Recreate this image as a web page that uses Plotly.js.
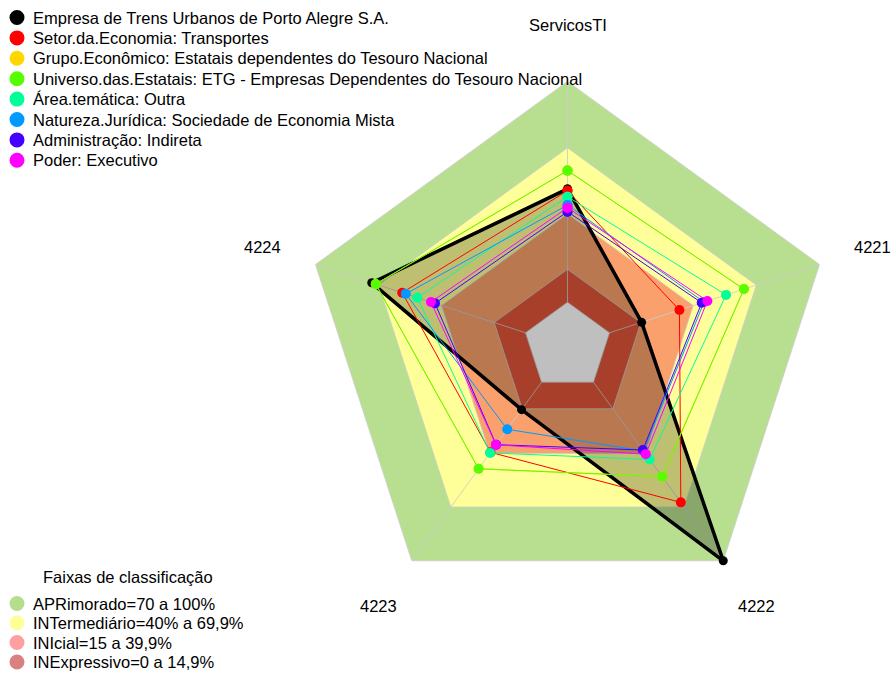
<!DOCTYPE html>
<html>
<head>
<meta charset="utf-8">
<script src="https://cdn.plot.ly/plotly-3.0.1.min.js"></script>
<style>html,body{margin:0;padding:0;background:#fff}#chart{width:893px;height:673px}</style>
</head>
<body>
<div id="chart"></div>
<script>
// ---- data ----
const categories = ["ServicosTI", "4221", "4222", "4223", "4224"];
const seriesNames = [
  "Empresa de Trens Urbanos de Porto Alegre S.A.",
  "Setor.da.Economia: Transportes",
  "Grupo.Econômico: Estatais dependentes do Tesouro Nacional",
  "Universo.das.Estatais: ETG - Empresas Dependentes do Tesouro Nacional",
  "Área.temática: Outra",
  "Natureza.Jurídica: Sociedade de Economia Mista",
  "Administração: Indireta",
  "Poder: Executivo"
];
const empresa  = [51.3, 15.3, 100.0, 15.4, 73.2];
const setor    = [50.5, 33.3, 67.3, 39.3, 58.7];
const grupo    = [59.6, 64.0, 52.9, 48.5, 71.3];
const universo = [59.6, 64.0, 52.9, 48.5, 71.3];
const area     = [47.8, 55.5, 43.3, 39.6, 51.5];
const natureza = [44.0, 45.0, 38.5, 26.4, 57.0];
const admin    = [41.0, 43.9, 38.0, 35.0, 43.1];
const poder    = [42.8, 46.6, 40.3, 35.1, 45.0];
const seriesValues = [empresa, setor, grupo, universo, area, natureza, admin, poder];
const seriesColors = ["#000000", "#ff0000", "#ffd700", "#55ff00", "#00ff99", "#0099ff", "#4400ff", "#ff00ff"];

const bandNames = ["APRimorado=70 a 100%", "INTermediário=40% a 69,9%", "INIcial=15 a 39,9%", "INExpressivo=0 a 14,9%"];
const bandTops = [100, 69.9, 39.9, 14.9];
const bandFill = ["#b8df8f", "#ffff99", "#f9a06c", "#df5538"];
const bandLegendColors = ["#b5de8c", "#ffff99", "#ff9f9f", "#db8080"];
const bandsTitle = "Faixas de classificação";

// ---- geometry ----
const W = 893, H = 673;
const cx = 567.5, cy = 346.4, R = 265;
const FONT = {size: 16.5, color: "#000", family: "Liberation Sans, Arial, sans-serif"};
const closeT = categories.concat([categories[0]]);
const closeR = a => a.concat([a[0]]);
const flat = v => categories.map(() => v);

const traces = [];
// bands
bandTops.forEach((v, i) => {
  traces.push({type: "scatterpolar", mode: "lines", r: closeR(flat(v)), theta: closeT,
    fill: "toself", fillcolor: bandFill[i], line: {color: "rgba(205,205,205,0.8)", width: 1},
    hoverinfo: "skip", showlegend: false});
});
// inner white core (below 0)
traces.push({type: "scatterpolar", mode: "lines", r: closeR(flat(0)), theta: closeT,
  fill: "toself", fillcolor: "#ffffff", line: {color: "rgba(205,205,205,0.8)", width: 1},
  hoverinfo: "skip", showlegend: false});
// spokes
categories.forEach(c => {
  traces.push({type: "scatterpolar", mode: "lines", r: [0, 100], theta: [c, c],
    line: {color: "rgba(205,205,205,0.85)", width: 1}, hoverinfo: "skip", showlegend: false});
});
// series
seriesValues.forEach((vals, i) => {
  const isMain = i === 0;
  traces.push({type: "scatterpolar", mode: "lines+markers", name: seriesNames[i],
    r: closeR(vals), theta: closeT,
    fill: isMain ? "toself" : "none", fillcolor: "rgba(0,0,0,0.25)",
    line: {color: seriesColors[i], width: isMain ? 3.5 : 1},
    marker: {color: seriesColors[i], size: isMain ? 9 : 10},
    showlegend: false});
});

// axis labels
const annotations = [];
const shapes = [];
const rLab = 321;
categories.forEach((c, k) => {
  const ang = (90 - 72 * k) * Math.PI / 180;
  const px = cx + rLab * Math.cos(ang), py = cy - rLab * Math.sin(ang);
  annotations.push({text: c, x: px / W, y: 1 - py / H, xref: "paper", yref: "paper",
    xanchor: "center", yanchor: "middle", showarrow: false, font: FONT});
});
// legends
function legendItem(label, color, px, py) {
  shapes.push({type: "circle", xref: "paper", yref: "paper", xsizemode: "pixel", ysizemode: "pixel",
    xanchor: 17 / W, yanchor: 1 - py / H, x0: -7.5, x1: 7.5, y0: -7.5, y1: 7.5,
    fillcolor: color, line: {width: 0}});
  annotations.push({text: label, x: px / W, y: 1 - py / H, xref: "paper", yref: "paper",
    xanchor: "left", yanchor: "middle", showarrow: false, font: FONT});
}
seriesNames.forEach((n, i) => legendItem(n, seriesColors[i], 31, 17.5 + 20.4 * i));
annotations.push({text: bandsTitle, x: 128 / W, y: 1 - 576.5 / H, xref: "paper", yref: "paper",
  xanchor: "center", yanchor: "middle", showarrow: false, font: FONT});
bandNames.forEach((n, i) => legendItem(n, bandLegendColors[i], 31, 603.5 + 19.5 * i));

const layout = {
  width: W, height: H,
  margin: {l: 0, r: 0, t: 0, b: 0},
  paper_bgcolor: "#ffffff",
  showlegend: false,
  polar: {
    domain: {x: [(cx - R) / W, (cx + R) / W], y: [(H - cy - R) / H, (H - cy + R) / H]},
    bgcolor: "rgba(0,0,0,0)",
    radialaxis: {range: [-20, 100], visible: false, showgrid: false},
    angularaxis: {type: "category", categoryarray: categories, rotation: 90, direction: "clockwise",
      visible: false, showgrid: false, showline: false}
  },
  annotations: annotations,
  shapes: shapes
};
Plotly.newPlot("chart", traces, layout, {staticPlot: true, displayModeBar: false});
</script>
</body>
</html>
